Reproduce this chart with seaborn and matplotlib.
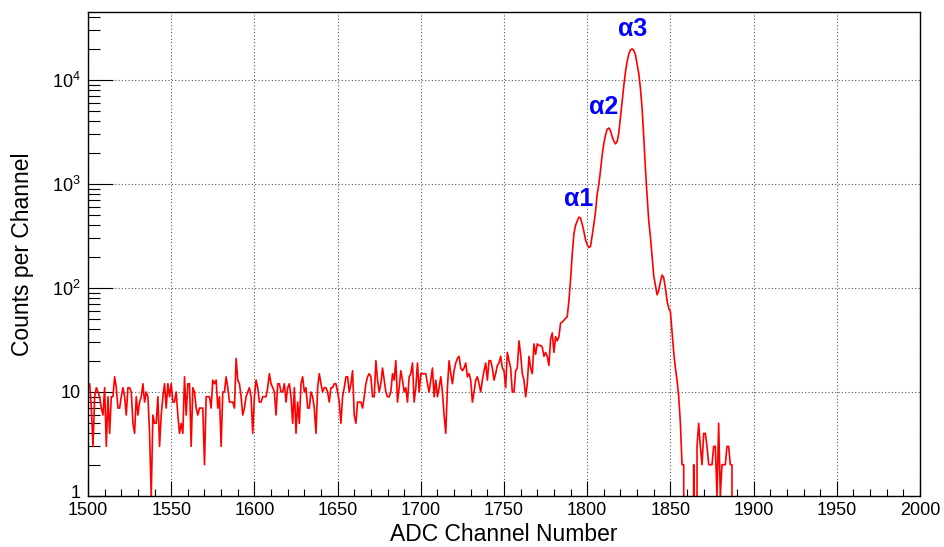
import numpy as np
import pandas as pd
import seaborn as sns
import matplotlib
matplotlib.use("Agg")
import matplotlib.pyplot as plt
import matplotlib.transforms as mtransforms
from matplotlib.ticker import FixedLocator, LogLocator, MultipleLocator, NullFormatter

# counts per channel, first channel is 1500
first_channel = 1500
flat_a = [11, 12, 7, 3, 9, 11, 10, 9, 7, 6, 11, 3, 9, 4, 9, 9, 14, 11, 7, 7,
          9, 11, 9, 6, 11, 11, 10, 5, 4, 9, 6, 8, 9, 12, 8, 10, 9, 4, 1, 6,
          5, 5, 9, 3, 6, 9, 12, 7, 12, 9, 12, 8, 8, 10, 6, 4, 5, 4, 14, 6,
          12, 12]
flat_b = [3, 11, 10, 7, 6, 7, 7, 7, 2, 9, 9, 9, 7, 13, 12, 13, 7, 9, 3, 10,
          10, 14, 11, 8, 8, 8, 7, 21, 13, 12, 9, 6, 7, 9, 10, 11, 9, 4, 9, 13,
          11, 8, 8, 9, 9, 9, 11, 15, 12, 11, 10, 6, 12, 12, 10, 10, 12, 8, 11, 12,
          9, 5]
flat_c = [11, 4, 8, 5, 12, 14, 10, 11, 7, 7, 10, 9, 7, 4, 11, 15, 12, 10, 11, 11,
          10, 8, 11, 11, 12, 12, 10, 8, 5, 9, 11, 14, 14, 10, 12, 16, 6, 5, 8, 8,
          8, 7, 9, 12, 14, 15, 14, 9, 9, 20, 13, 10, 12, 17, 13, 10, 9, 9, 10, 15,
          13]
flat_d = [20, 8, 11, 16, 13, 10, 11, 8, 14, 15, 19, 8, 11, 19, 10, 15, 15, 15, 15, 12,
          10, 13, 17, 9, 13, 9, 11, 14, 10, 6, 4, 11, 20, 15, 12, 16, 19, 21, 22, 17,
          16, 17, 19, 14, 15, 13, 8, 10, 13, 14, 12, 10, 13, 16, 19, 13, 20]
rise = [20, 17, 13, 15, 18, 19, 22, 17, 16, 11, 24, 20, 17, 10, 10, 16, 17, 31, 23, 15,
        13, 9, 12, 22, 17, 15, 29, 23, 29, 28, 28, 27, 22, 24, 22, 18, 32, 37, 24, 34,
        31, 34, 46, 47, 49, 51, 53, 75, 120]
peaks = [210, 330, 400, 440, 480, 470, 410, 350, 290, 260, 245, 250, 320, 410, 540, 800,
         1000, 1350, 1900, 2450, 2950, 3350, 3450, 3250, 2850, 2580, 2430, 2550, 3100, 4400,
         6200, 8800, 12000, 15000, 17800, 19400, 19900, 19200, 17400, 14200, 11500, 8300,
         5300, 2800, 1400, 760, 440, 310, 200, 130, 105, 86, 95, 115, 133, 125, 100, 75,
         64, 59, 38, 24, 17, 13, 9, 5, 2, 2]
tail = [0, 0, 0, 0, 0, 2, 0, 3, 5, 3, 2, 4, 4, 3, 2, 2, 2, 3, 3, 1,
        5, 1, 2, 2, 2, 3, 3, 2, 2, 0]

peak_names = ["α1", "α2", "α3"]
peak_x = [1794.7, 1810, 1827.5]
peak_y = [713, 5540, 30700]

counts = flat_a + flat_b + flat_c + flat_d + rise + peaks + tail
df = pd.DataFrame({"channel": first_channel + np.arange(len(counts)), "counts": counts})

sns.set_theme(style="white")
plt.rcParams["font.family"] = ["Liberation Sans", "DejaVu Sans"]
plt.rcParams["mathtext.fontset"] = "custom"
plt.rcParams["mathtext.rm"] = "Liberation Sans"

fig = plt.figure(figsize=(9.44, 5.47), dpi=100)
ax = fig.add_axes([88 / 944, 1 - 496 / 547, 832 / 944, 484 / 547])

sns.lineplot(data=df, x="channel", y="counts", color="#ff0000", linewidth=1.2,
             estimator=None, ax=ax)
ax.set_yscale("log")
ax.set_xlim(1500, 2000)
ax.set_ylim(1, 45000)

ax.xaxis.set_major_locator(MultipleLocator(50))
ax.xaxis.set_minor_locator(MultipleLocator(10))
ax.yaxis.set_major_locator(FixedLocator([1, 10, 100, 1000, 10000]))
ax.yaxis.set_minor_locator(LogLocator(base=10, subs=np.arange(2, 10)))
ax.yaxis.set_minor_formatter(NullFormatter())
ax.set_yticklabels(["1", "10", r"$\mathregular{10^{2}}$", r"$\mathregular{10^{3}}$",
                    r"$\mathregular{10^{4}}$"])

ax.tick_params(axis="both", which="both", direction="in", colors="black",
               labelsize=13, left=True, bottom=True, top=False, right=False)
ax.tick_params(axis="x", which="major", length=10.8, width=0.8, pad=4)
ax.tick_params(axis="x", which="minor", length=5.4, width=0.8)
ax.tick_params(axis="y", which="major", length=18, width=0.8, pad=5)
ax.tick_params(axis="y", which="minor", length=8.6, width=0.8)

# ROOT puts the "1" a touch above the axis corner
one = ax.get_yticklabels()[0]
one.set_transform(one.get_transform() + mtransforms.ScaledTranslation(0, 4 / 100, fig.dpi_scale_trans))

ax.grid(True, which="major", color="#555555", linestyle=(0, (1, 2)), linewidth=0.8)
for s in ax.spines.values():
    s.set_color("black")
    s.set_linewidth(1.0)

ax.set_xlabel("ADC Channel Number", fontsize=16.5, color="black")
ax.set_ylabel("Counts per Channel", fontsize=16.5, color="black")
ax.xaxis.set_label_coords(0.5, -0.056)
ax.yaxis.set_label_coords(-0.0655, 0.5)

for name, px, py in zip(peak_names, peak_x, peak_y):
    ax.text(px, py, name, color="#0000ff", fontsize=18, fontweight="bold",
            ha="center", va="center")

fig.savefig("out.png", dpi=100)
